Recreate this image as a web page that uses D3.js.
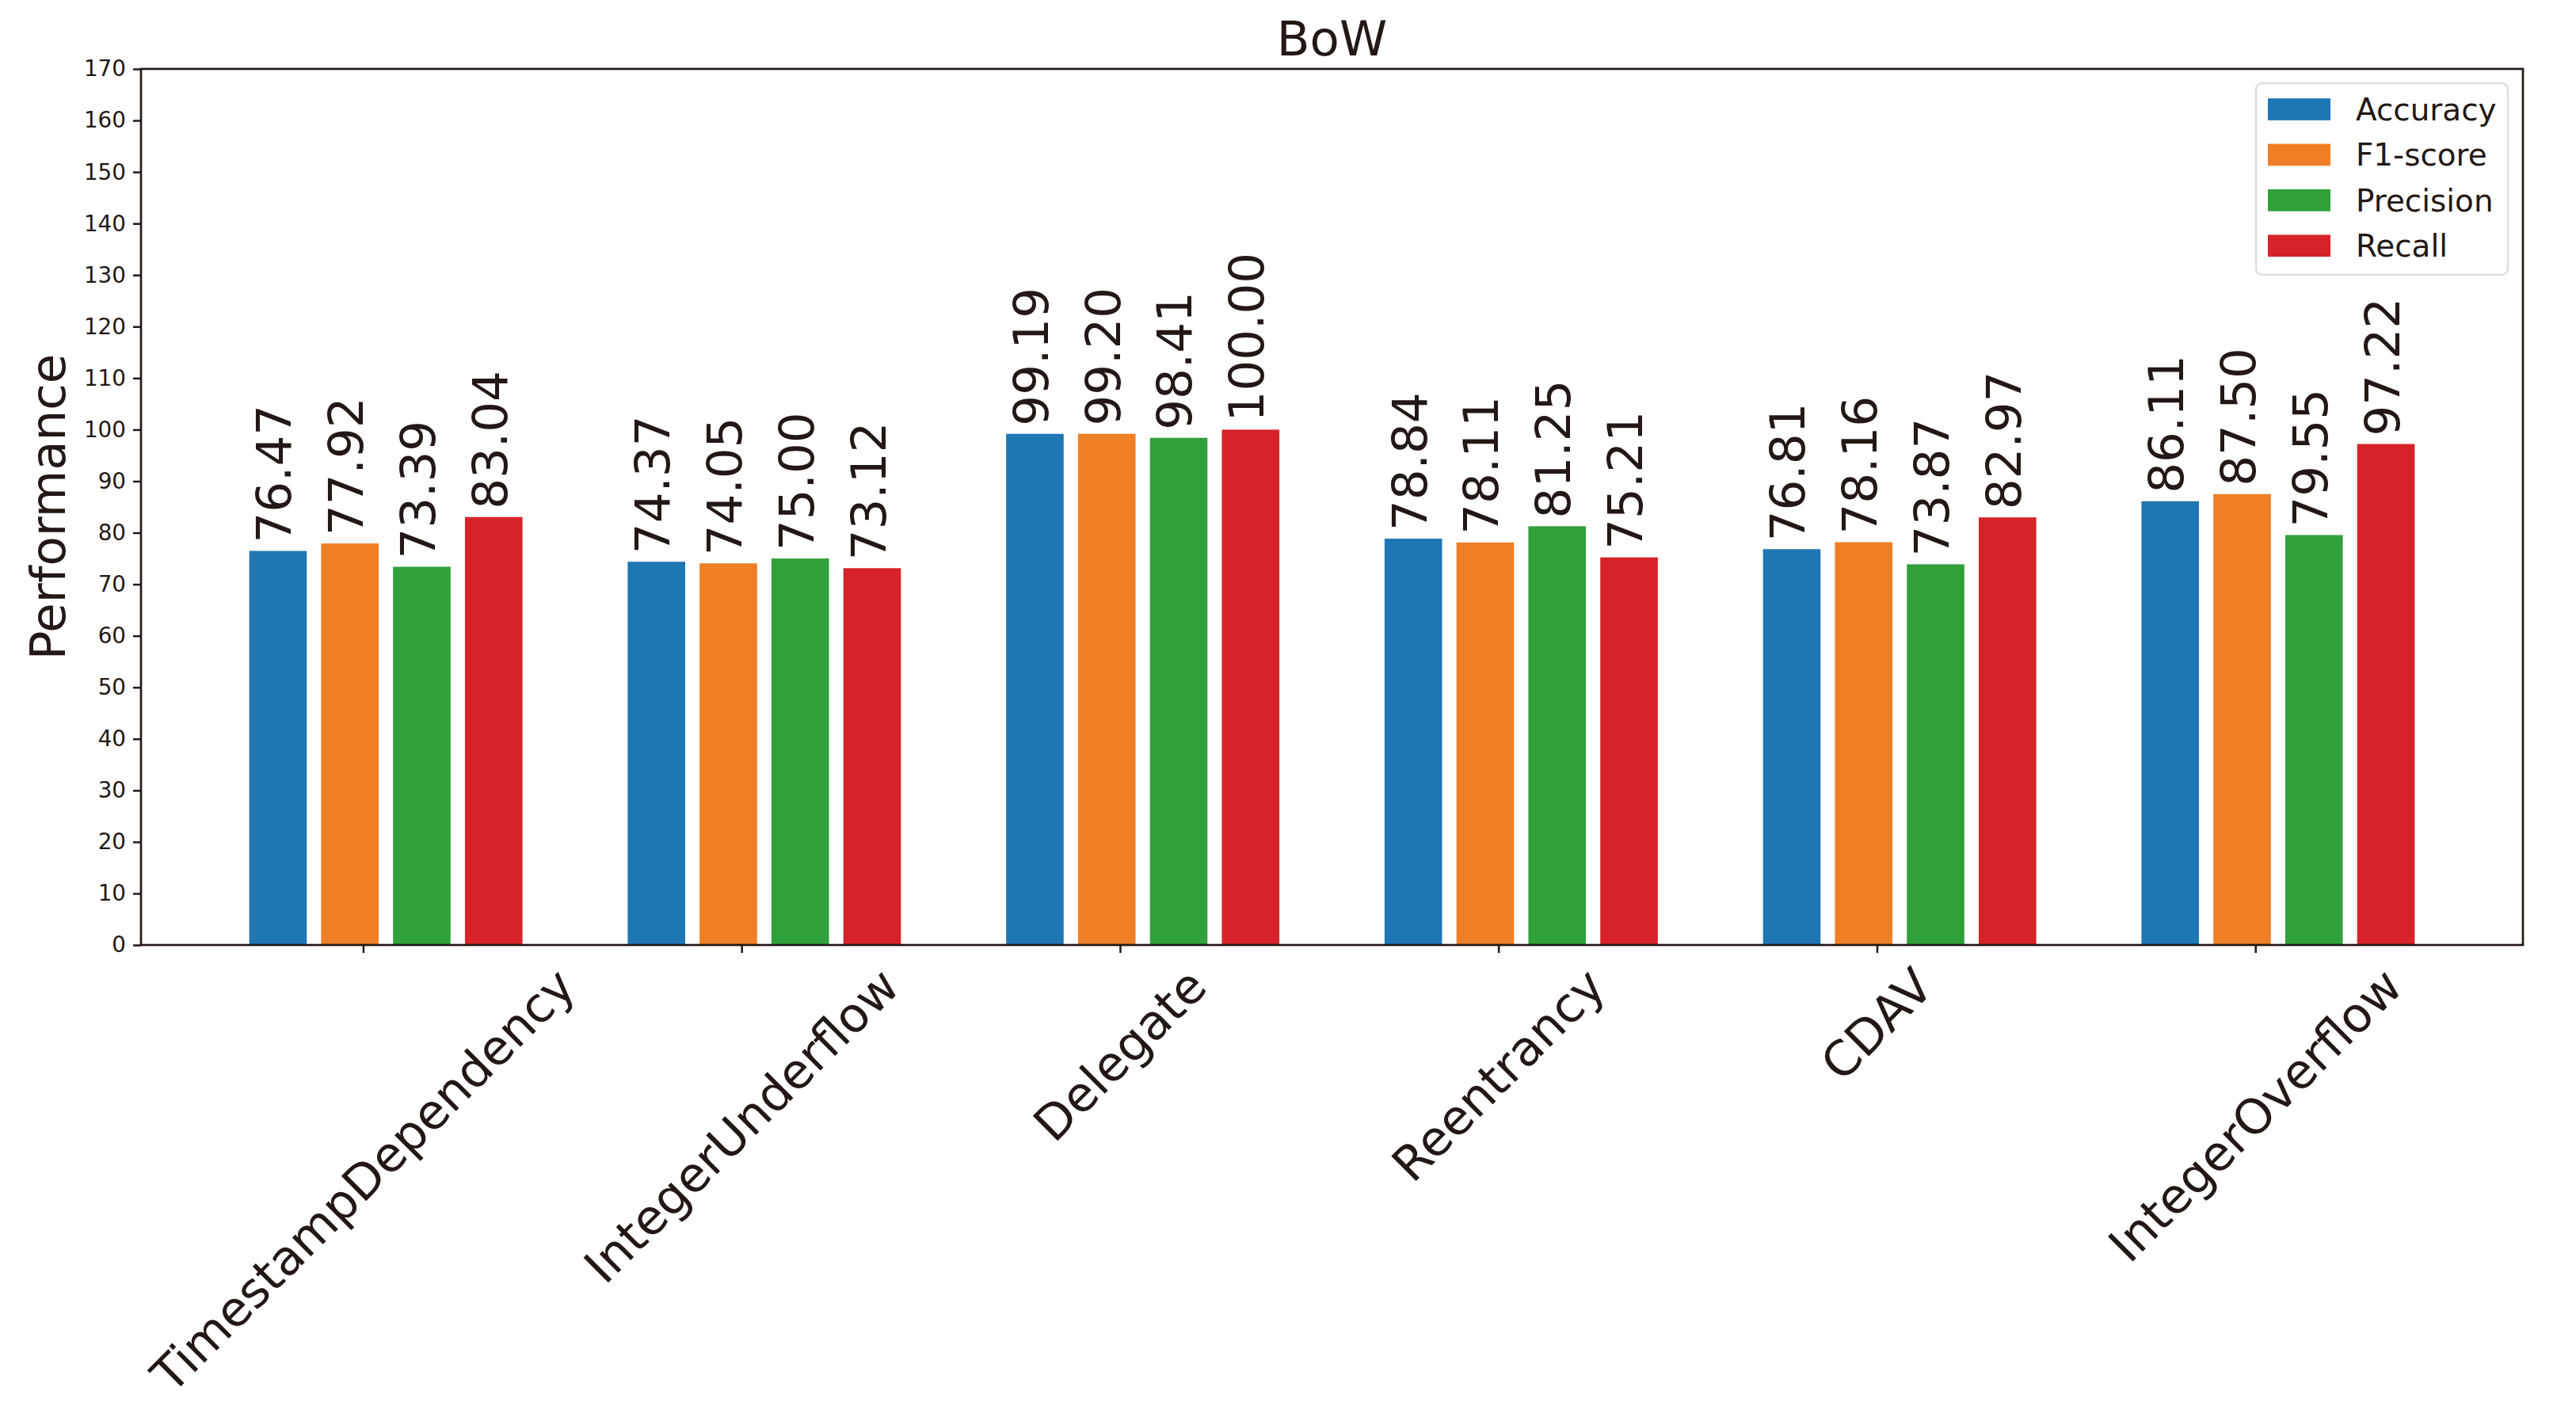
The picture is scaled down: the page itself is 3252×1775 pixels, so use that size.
<!DOCTYPE html>
<html>
<head>
<meta charset="utf-8">
<script src="https://cdn.jsdelivr.net/npm/d3@7"></script>
<style>
  body { margin: 0; background: #fff; }
  text { font-family: "DejaVu Sans", sans-serif; fill: #231815; }
</style>
</head>
<body>
<div id="chart"></div>
<script>
// Chart data
const categories = ['TimestampDependency', 'IntegerUnderflow', 'Delegate', 'Reentrancy', 'CDAV', 'IntegerOverflow'];
const seriesNames = ['Accuracy', 'F1-score', 'Precision', 'Recall'];
const accuracy  = [76.47, 74.37, 99.19, 78.84, 76.81, 86.11];
const f1score   = [77.92, 74.05, 99.20, 78.11, 78.16, 87.50];
const precision = [73.39, 75.00, 98.41, 81.25, 73.87, 79.55];
const recall    = [83.04, 73.12, 100.00, 75.21, 82.97, 97.22];
const yTicks = d3.range(0, 171, 10);

const seriesValues = [accuracy, f1score, precision, recall];
const colors = ['#1f76b4', '#ef7f26', '#30a03b', '#d62229'];

const W = 3252, H = 1775;
const plot = { left: 178, right: 3185, top: 87, bottom: 1193 };

const barWidth = 0.152;   // in group units
const barStep = 0.19;
const tickOffset = 0.225;

const svg = d3.select('#chart')
    .append('svg')
    .attr('width', W)
    .attr('height', H);

svg.append('rect').attr('width', W).attr('height', H).attr('fill', '#fff');

// Scales
const xScale = d3.scaleLinear()
    .domain([-0.362, 5.932])
    .range([plot.left, plot.right]);

const yScale = d3.scaleLinear()
    .domain([0, 170])
    .range([plot.bottom, plot.top]);

// Bars
seriesValues.forEach((vals, s) => {
    svg.selectAll('.bar-' + s)
        .data(vals)
        .enter()
        .append('rect')
        .attr('class', 'bar-' + s)
        .attr('x', (d, i) => xScale(i + s * barStep - barWidth / 2))
        .attr('width', xScale(barWidth) - xScale(0))
        .attr('y', d => yScale(d))
        .attr('height', d => yScale(0) - yScale(d))
        .attr('fill', colors[s]);

    // value labels
    svg.selectAll('.label-' + s)
        .data(vals)
        .enter()
        .append('text')
        .attr('transform', (d, i) => `translate(${xScale(i + s * barStep)},${yScale(d) - 10}) rotate(-90)`)
        .attr('dy', '0.27em')
        .attr('font-size', 61)
        .attr('text-anchor', 'start')
        .text(d => d.toFixed(2));
});

// Y axis
const yAxis = svg.append('g')
    .attr('transform', `translate(${plot.left},0)`)
    .call(d3.axisLeft(yScale).tickValues(yTicks).tickSize(10).tickPadding(9));
yAxis.select('.domain').remove();
yAxis.selectAll('line').attr('stroke', '#231815').attr('stroke-width', 2.5);
yAxis.selectAll('text').attr('font-size', 27.8).attr('fill', '#231815')
    .style('font-family', '"DejaVu Sans", sans-serif');

// X axis
const tickPositions = categories.map((c, i) => i + tickOffset);
const xAxis = svg.append('g')
    .attr('transform', `translate(0,${plot.bottom})`)
    .call(d3.axisBottom(xScale).tickValues(tickPositions).tickSize(10).tickFormat(''));
xAxis.select('.domain').remove();
xAxis.selectAll('line').attr('stroke', '#231815').attr('stroke-width', 2.5);

// Rotated category labels, bbox centred under tick
const xFont = 61;
const labelTop = plot.bottom + 16;
categories.forEach((c, i) => {
    const t = svg.append('text')
        .attr('font-size', xFont)
        .attr('text-anchor', 'middle')
        .text(c);
    const len = t.node().getComputedTextLength();
    const h = xFont * 1.164;
    const half = (len + h) * Math.SQRT1_2 / 2;
    const cx = xScale(i + tickOffset);
    const cy = labelTop + half;
    t.attr('transform', `translate(${cx},${cy}) rotate(-45)`)
        .attr('dy', (0.928 - 1.164 / 2) + 'em');
});

// Frame
svg.append('rect')
    .attr('x', plot.left)
    .attr('y', plot.top)
    .attr('width', plot.right - plot.left)
    .attr('height', plot.bottom - plot.top)
    .attr('fill', 'none')
    .attr('stroke', '#231815')
    .attr('stroke-width', 2.7);

// Title and y label
svg.append('text')
    .attr('x', (plot.left + plot.right) / 2)
    .attr('y', 70)
    .attr('text-anchor', 'middle')
    .attr('font-size', 61)
    .text('BoW');

svg.append('text')
    .attr('transform', `translate(82,${(plot.top + plot.bottom) / 2}) rotate(-90)`)
    .attr('text-anchor', 'middle')
    .attr('font-size', 61)
    .text('Performance');

// Legend
const legend = svg.append('g');
legend.append('rect')
    .attr('x', 2848).attr('y', 105)
    .attr('width', 3166 - 2848).attr('height', 347 - 105)
    .attr('rx', 8).attr('ry', 8)
    .attr('fill', '#fff')
    .attr('stroke', '#e0e0e0')
    .attr('stroke-width', 2.7);

seriesNames.forEach((name, i) => {
    const cy = 138 + i * 57.4;
    legend.append('rect')
        .attr('x', 2863).attr('y', cy - 13.8)
        .attr('width', 79).attr('height', 27.7)
        .attr('fill', colors[i]);
    legend.append('text')
        .attr('x', 2974).attr('y', cy)
        .attr('dy', '0.36em')
        .attr('font-size', 38.9)
        .text(name);
});
</script>
</body>
</html>
